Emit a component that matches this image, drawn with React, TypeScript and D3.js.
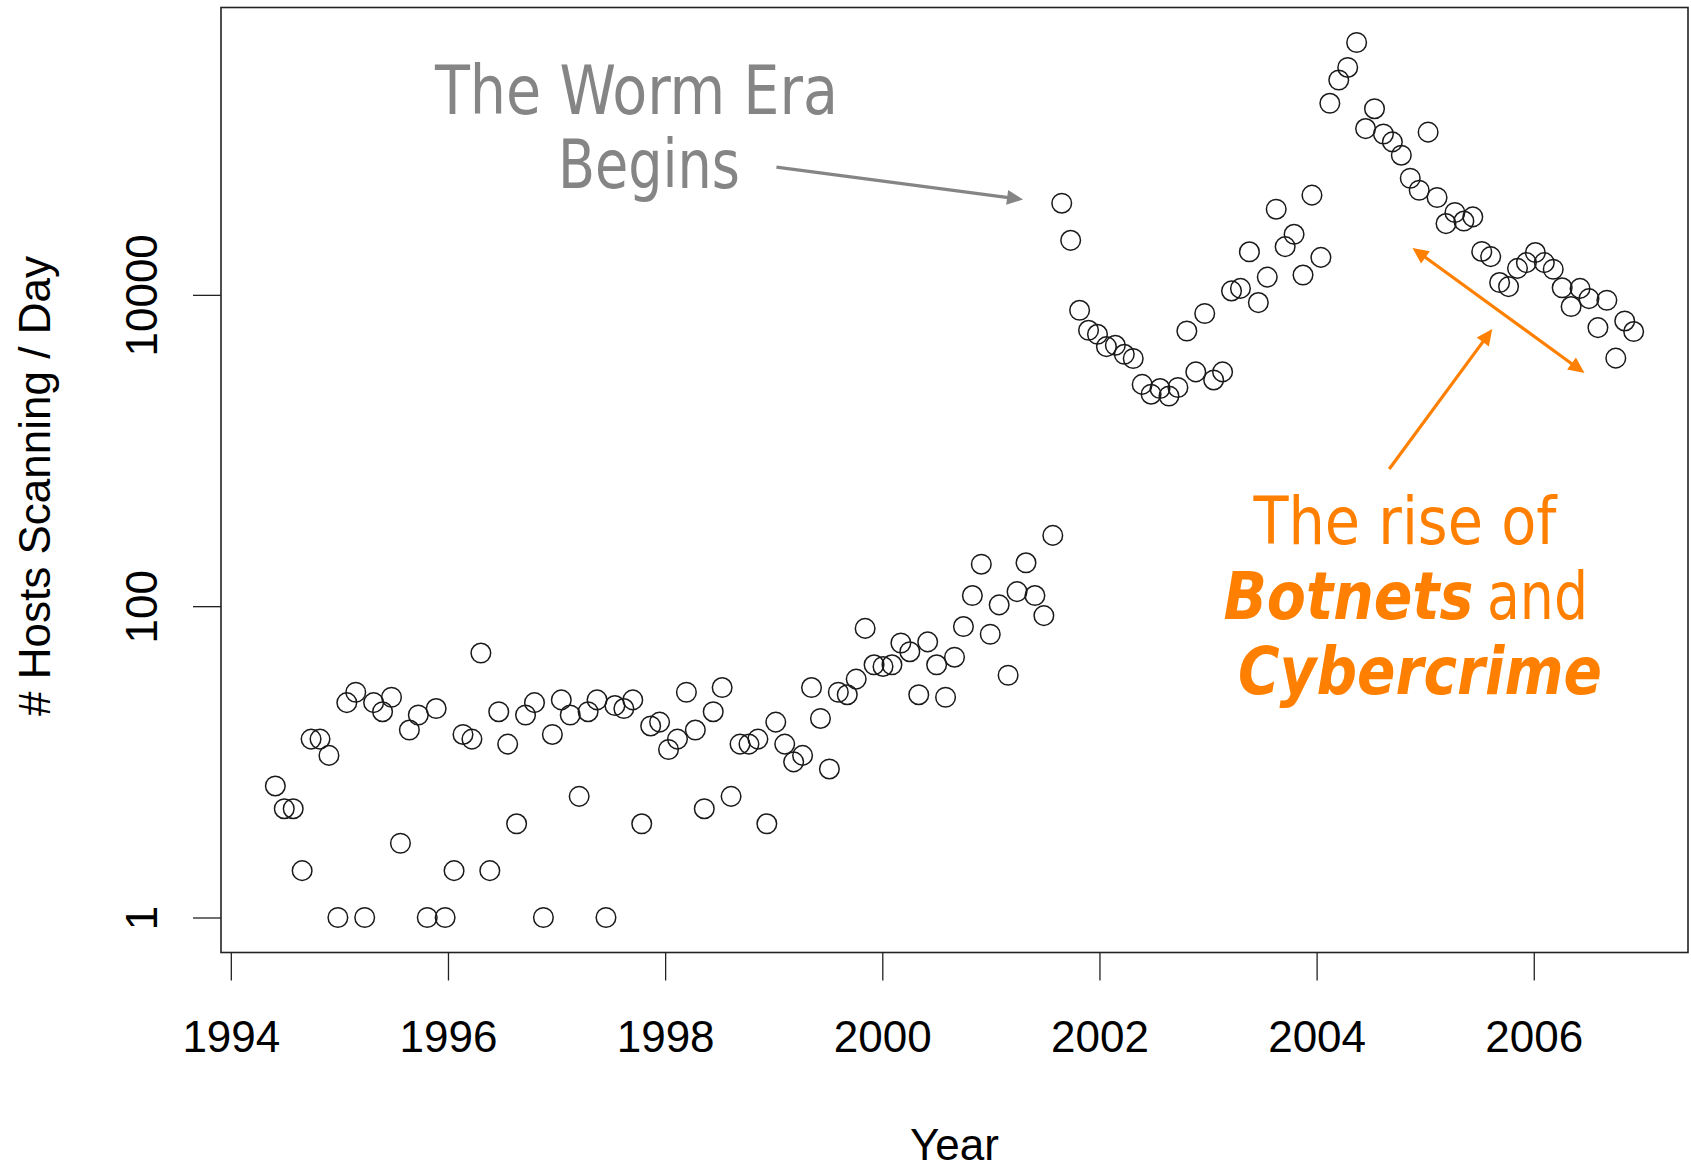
import React, { useEffect, useRef } from 'react';
import * as d3 from 'd3';

// first and last observation (decimal years), observations are evenly spaced
const firstYear = 1994.41;
const lastYear = 2006.92;

// hosts scanning per day, Jun 1994 .. Aug 2001
const hostsPreWorm = [
  7, 5, 5, 2, 14, 14, 11, 1, 24, 28,
  1, 24, 21, 26, 3, 16, 20, 1, 22, 1,
  2, 15, 14, 50, 2, 21, 13, 4, 20, 24,
  1, 15, 25, 20, 6, 21, 25, 1, 23, 22,
  25, 4, 17, 18, 12, 14, 28, 16, 5, 21,
  30, 6, 13, 13, 14, 4, 18, 13, 10, 11,
  30, 19, 9, 28, 27, 34, 72, 42, 41, 42,
  58, 51, 27, 59, 42, 26, 47, 74, 117, 186,
  66, 102, 36, 124, 190, 117, 87, 285
];

// Sep 2001 .. Dec 2006
const hostsWormBot = [
  38800, 22400, 7960, 5920, 5580, 4650, 4740, 4150, 3900, 2660,
  2300, 2500, 2240, 2540, 5860, 3200, 7590, 2840, 3200, 10600,
  11000, 18900, 8920, 13000, 35500, 20400, 24500, 13400, 43700, 17400,
  170000, 240000, 289000, 418000, 117000, 157000, 108000, 96100, 78900, 56100,
  47000, 111000, 42200, 28700, 33800, 29800, 31700, 19000, 17600, 12000,
  11300, 14800, 16100, 18700, 16100, 14600, 11100, 8410, 11000, 9460,
  6160, 9230, 3920, 6800, 5810
];

const yearTicks = [1994, 1996, 1998, 2000, 2002, 2004, 2006];
const hostTicks = [1, 100, 10000];

// annotations, in data units [year, hosts]
const wormLines = ['The Worm Era', 'Begins'];
const wormPos = [[1997.736, 145000], [1997.851, 48350]];
const wormArrow = [[1999.025, 66200], [2001.296, 41000]];
const botArrow = [[2004.669, 761], [2005.618, 6030]];
const trendArrow = [[2004.883, 20000], [2006.467, 3150]];
const botPos = [[2004.814, 251], [2004.823, 82.8], [2004.952, 27.3]];

const W = 1691;
const H = 1168;
const left = 221, right = 1688, top = 7.5, bottom = 952.5;
const axisFont = 'Liberation Sans, Arial, Helvetica, sans-serif';
const noteFont = '"DejaVu Sans Condensed", "DejaVu Sans", Tahoma, sans-serif';
const gray = '#858585';
const orange = '#ff8000';

const App = () => {
  const ref = useRef<SVGSVGElement>(null);

  useEffect(() => {
    const svg = d3.select(ref.current);
    svg.selectAll('*').remove();

    const hosts = hostsPreWorm.concat(hostsWormBot);
    const step = (lastYear - firstYear) / (hosts.length - 1);
    const data = hosts.map((v, i) => ({ year: firstYear + i * step, hosts: v }));

    // R style 4% padding
    const xPad = (lastYear - firstYear) * 0.04;
    const x = d3.scaleLinear().domain([firstYear - xPad, lastYear + xPad]).range([left, right]);
    const lo = Math.log10(d3.min(hosts) as number);
    const hi = Math.log10(d3.max(hosts) as number);
    const yPad = (hi - lo) * 0.04;
    const y = d3.scaleLog().domain([10 ** (lo - yPad), 10 ** (hi + yPad)]).range([bottom, top]);

    svg.append('rect')
      .attr('x', left).attr('y', top)
      .attr('width', right - left).attr('height', bottom - top)
      .attr('fill', 'none').attr('stroke', '#222').attr('stroke-width', 1.6);

    // x axis
    const gx = svg.append('g').attr('transform', `translate(0,${bottom})`)
      .call(d3.axisBottom(x).tickValues(yearTicks).tickFormat(d3.format('d')).tickSize(28).tickSizeOuter(0));
    gx.select('.domain').remove();
    gx.selectAll('line').attr('stroke', '#222').attr('stroke-width', 1.3);
    gx.selectAll('text')
      .attr('y', 99).attr('dy', 0)
      .attr('fill', '#000')
      .style('font-family', axisFont).style('font-size', '44px');

    // y axis
    const gy = svg.append('g').attr('transform', `translate(${left},0)`)
      .call(d3.axisLeft(y).tickValues(hostTicks).tickFormat(d3.format('d')).tickSize(28).tickSizeOuter(0));
    gy.select('.domain').remove();
    gy.selectAll('line').attr('stroke', '#222').attr('stroke-width', 1.3);
    gy.selectAll('text')
      .attr('x', 0).attr('y', 0).attr('dy', 0)
      .attr('transform', 'translate(-64,0) rotate(-90)')
      .attr('text-anchor', 'middle')
      .attr('fill', '#000')
      .style('font-family', axisFont).style('font-size', '44px');

    svg.append('text')
      .attr('x', (left + right) / 2).attr('y', 1160)
      .attr('text-anchor', 'middle')
      .style('font-family', axisFont).style('font-size', '44px')
      .text('Year');

    svg.append('text')
      .attr('transform', `translate(50,486) rotate(-90)`)
      .attr('text-anchor', 'middle')
      .style('font-family', axisFont).style('font-size', '44px')
      .text('# Hosts Scanning / Day');

    // points
    svg.append('g').selectAll('circle').data(data).enter().append('circle')
      .attr('cx', d => x(d.year))
      .attr('cy', d => y(d.hosts))
      .attr('r', 9.8)
      .attr('fill', 'none')
      .attr('stroke', '#1a1a1a')
      .attr('stroke-width', 1.5);

    const px = (p: number[]) => [x(p[0]), y(p[1])];

    const arrow = (p0: number[], p1: number[], color: string, both: boolean) => {
      const [x1, y1] = px(p0);
      const [x2, y2] = px(p1);
      const len = Math.hypot(x2 - x1, y2 - y1);
      const ux = (x2 - x1) / len, uy = (y2 - y1) / len;
      const hl = 16, hw = 7.5;
      const head = (tx: number, ty: number, dx: number, dy: number) => {
        const bx = tx - dx * hl, by = ty - dy * hl;
        svg.append('path')
          .attr('d', `M${tx},${ty}L${bx - dy * hw},${by + dx * hw}L${bx + dy * hw},${by - dx * hw}Z`)
          .attr('fill', color);
      };
      const sx = both ? x1 + ux * hl * 0.8 : x1;
      const sy = both ? y1 + uy * hl * 0.8 : y1;
      svg.append('line')
        .attr('x1', sx).attr('y1', sy)
        .attr('x2', x2 - ux * hl * 0.8).attr('y2', y2 - uy * hl * 0.8)
        .attr('stroke', color).attr('stroke-width', 3.2);
      head(x2, y2, ux, uy);
      if (both) head(x1, y1, -ux, -uy);
    };

    // worm era note
    const wormWidths = [403, 182];
    wormLines.forEach((t, i) => {
      const [tx, ty] = px(wormPos[i]);
      svg.append('text')
        .attr('x', tx).attr('y', ty)
        .attr('text-anchor', 'middle')
        .attr('fill', gray)
        .attr('textLength', wormWidths[i]).attr('lengthAdjust', 'spacingAndGlyphs')
        .style('font-family', noteFont).style('font-size', '67px')
        .text(t);
    });
    arrow(wormArrow[0], wormArrow[1], gray, false);

    // botnet note
    arrow(botArrow[0], botArrow[1], orange, false);
    arrow(trendArrow[0], trendArrow[1], orange, true);

    const [r1x, r1y] = px(botPos[0]);
    svg.append('text')
      .attr('x', r1x).attr('y', r1y).attr('text-anchor', 'middle')
      .attr('fill', orange)
      .attr('textLength', 303).attr('lengthAdjust', 'spacingAndGlyphs')
      .style('font-family', noteFont).style('font-size', '65px')
      .text('The rise of');

    const [r2x, r2y] = px(botPos[1]);
    svg.append('text')
      .attr('x', r2x + 67.5).attr('y', r2y).attr('text-anchor', 'end')
      .attr('fill', orange)
      .attr('textLength', 250).attr('lengthAdjust', 'spacingAndGlyphs')
      .style('font-family', noteFont).style('font-size', '65px')
      .style('font-weight', 'bold').style('font-style', 'italic')
      .text('Botnets');
    svg.append('text')
      .attr('x', r2x + 81).attr('y', r2y).attr('text-anchor', 'start')
      .attr('fill', orange)
      .attr('textLength', 101).attr('lengthAdjust', 'spacingAndGlyphs')
      .style('font-family', noteFont).style('font-size', '65px')
      .text('and');

    const [r3x, r3y] = px(botPos[2]);
    svg.append('text')
      .attr('x', r3x).attr('y', r3y).attr('text-anchor', 'middle')
      .attr('fill', orange)
      .attr('textLength', 364).attr('lengthAdjust', 'spacingAndGlyphs')
      .style('font-family', noteFont).style('font-size', '65px')
      .style('font-weight', 'bold').style('font-style', 'italic')
      .text('Cybercrime');
  }, []);

  return (
    <svg
      ref={ref}
      width={W}
      height={H}
      style={{ position: 'absolute', left: 0, top: 0, background: '#fff' }}
    />
  );
};

export default App;
